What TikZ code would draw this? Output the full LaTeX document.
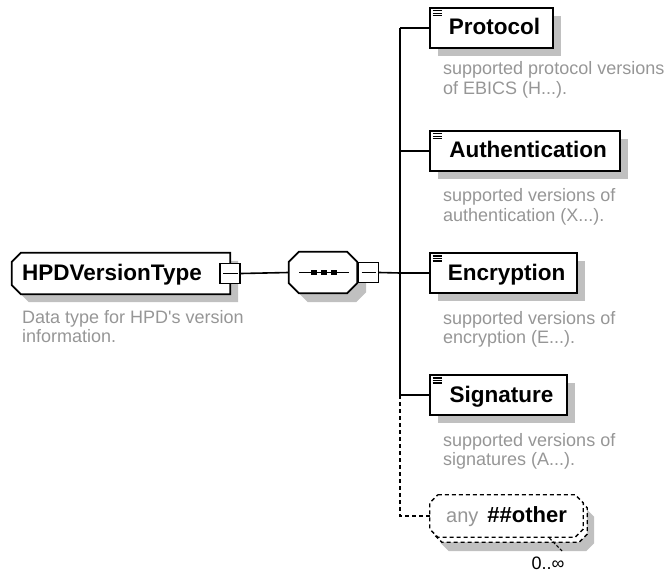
\documentclass[tikz,border=0pt]{standalone}
\usepackage{fontspec}
\setmainfont{Liberation Sans}
\usetikzlibrary{shadows,backgrounds}
\definecolor{shgray}{RGB}{192,192,192}
\definecolor{descgray}{RGB}{150,150,150}
% full octagon outline around node #1, chamfer #2
\newcommand\octpath[2]{([xshift=#2pt]#1.north west) -- ([xshift=-#2pt]#1.north east)
  -- ([yshift=-#2pt]#1.north east) -- ([yshift=#2pt]#1.south east)
  -- ([xshift=-#2pt]#1.south east) -- ([xshift=#2pt]#1.south west)
  -- ([yshift=#2pt]#1.south west) -- ([yshift=-#2pt]#1.north west) -- cycle}
% outline with only the left corners cut
\newcommand\leftoctpath[2]{([xshift=#2pt]#1.north west) -- (#1.north east)
  -- (#1.south east) -- ([xshift=#2pt]#1.south west)
  -- ([yshift=#2pt]#1.south west) -- ([yshift=-#2pt]#1.north west) -- cycle}
\begin{document}
\begin{tikzpicture}[x=1pt,y=-1pt,
  boldlabel/.style={font=\fontsize{22.5}{26}\selectfont\bfseries},
  elem/.style={draw=black, line width=1.8pt, fill=white, minimum height=40pt,
    inner sep=0pt, boldlabel, text height=16pt, text depth=2pt,
    general shadow={fill=shgray, shadow xshift=8pt, shadow yshift=-8pt}},
  desc/.style={anchor=base west, inner sep=0pt, align=left, text=descgray,
    font=\fontsize{18}{19.5}\selectfont},
  conn/.style={line width=1.6pt},
  dconn/.style={line width=1.3pt, dash pattern=on 4pt off 3pt},
  mbox/.style={draw, line width=1.5pt, fill=white, minimum width=20pt,
    minimum height=20pt, inner sep=0pt},
  shapeline/.style={draw=black, line width=1.8pt, fill=white, line join=miter},
  anyline/.style={draw=black, line width=1.3pt, fill=white, dash pattern=on 4pt off 3pt},
  shadowfill/.style={fill=shgray, draw=none},
  icon/.style={line width=1.2pt},
]
\useasboundingbox (0,0) rectangle (668,577);

% root type
\node[minimum width=218pt, minimum height=41pt, inner sep=0pt, boldlabel,
  text height=16pt, text depth=2pt]
  (hpd) at (121,273.5) {HPDVersionType\hspace*{18pt}};
\node[mbox] (hpdm) at (hpd.east) {};
\draw[conn] ([xshift=4pt]hpdm.west) -- ([xshift=-3pt]hpdm.east);
\node[desc] (hpdd) at (22,342.5) {Data type for HPD\textquotesingle s version\\information.};

% sequence
\node[minimum width=68pt, minimum height=41pt, inner sep=0pt] (seq) at (323,272.5) {};
\node[mbox, anchor=west] (seqm) at ([xshift=0.5pt]seq.east) {};
\draw[conn] ([xshift=4pt]seqm.west) -- ([xshift=-3pt]seqm.east);

% elements
\node[elem, minimum width=123pt] (prot) at (491.5,28) {\hspace*{6pt}Protocol};
\node[elem, minimum width=190pt] (auth) at (525,151) {\hspace*{6pt}Authentication};
\node[elem, minimum width=147pt] (enc) at (503.5,273) {\hspace*{6pt}Encryption};
\node[elem, minimum width=137pt] (sig) at (498.5,395) {\hspace*{6pt}Signature};
\foreach \n in {prot,auth,enc,sig}{
  \foreach \dy in {3.8,6.3,8.8}{
    \draw[icon] ([shift={(3.5,\dy)}]\n.north west) -- ++(9,0);
  }
}

\node[desc] (protd) at (443,94.5) {supported protocol versions\\of EBICS (H...).};
\node[desc] (authd) at (443,221.5) {supported versions of\\authentication (X...).};
\node[desc] (encd) at (443,343.5) {supported versions of\\encryption (E...).};
\node[desc] (sigd) at (443,465.5) {supported versions of\\signatures (A...).};

% wildcard
\node[minimum width=153pt, minimum height=42pt, inner sep=0pt] (anyback) at (510.5,521) {};
\node[minimum width=153pt, minimum height=42pt, inner sep=0pt, text height=15pt, text depth=3pt] (any) at (506.5,516)
  {\fontsize{20}{24}\selectfont\textcolor{descgray}{any}\hspace{0.45em}\textbf{\fontsize{22}{26}\selectfont\#\#other}};
\node[inner sep=0pt, font=\fontsize{18}{20}\selectfont, anchor=north] (card) at (548,557) {0..∞};

% outlines and shadows of the cut-corner shapes
\begin{scope}[on background layer]
  \begin{scope}[transform canvas={xshift=8pt, yshift=-8pt}]
    \path[shadowfill] \leftoctpath{hpd}{9};
  \end{scope}
  \path[shapeline] \leftoctpath{hpd}{9};
  \begin{scope}[transform canvas={xshift=9pt, yshift=-9pt}]
    \path[shadowfill] \octpath{seq}{10};
  \end{scope}
  \path[shapeline] \octpath{seq}{10};
  \begin{scope}[transform canvas={xshift=7pt, yshift=-9pt}]
    \path[shadowfill] \octpath{anyback}{8};
  \end{scope}
  \path[anyline] \octpath{anyback}{8};
  \path[anyline] \octpath{any}{8};
\end{scope}

% sequence symbol
\draw[conn] ([xshift=-24pt]seq.center) -- ([xshift=26pt]seq.center);
\foreach \dx in {-9,1,11}{
  \fill ([xshift=\dx pt]seq.center) +(-2.7,-2.7) rectangle +(2.7,2.7);
}

% connectors
\draw[conn] (hpdm.east) -- (seq.west);
\coordinate (bus) at (400,273);
\draw[conn] (seqm.east) -- (bus);
\draw[conn] (prot.west -| bus) -- (sig.west -| bus);
\foreach \n in {prot,auth,enc,sig}{
  \draw[conn] (\n.west -| bus) -- (\n.west);
}
\draw[dconn] (sig.west -| bus) -- (any.west -| bus) -- (any.west);
\coordinate (cardtip) at (563,552);
\draw[line width=1.1pt, dash pattern=on 3pt off 2pt] ([xshift=43pt,yshift=-1pt]any.south) -- (cardtip);
\end{tikzpicture}
\end{document}
